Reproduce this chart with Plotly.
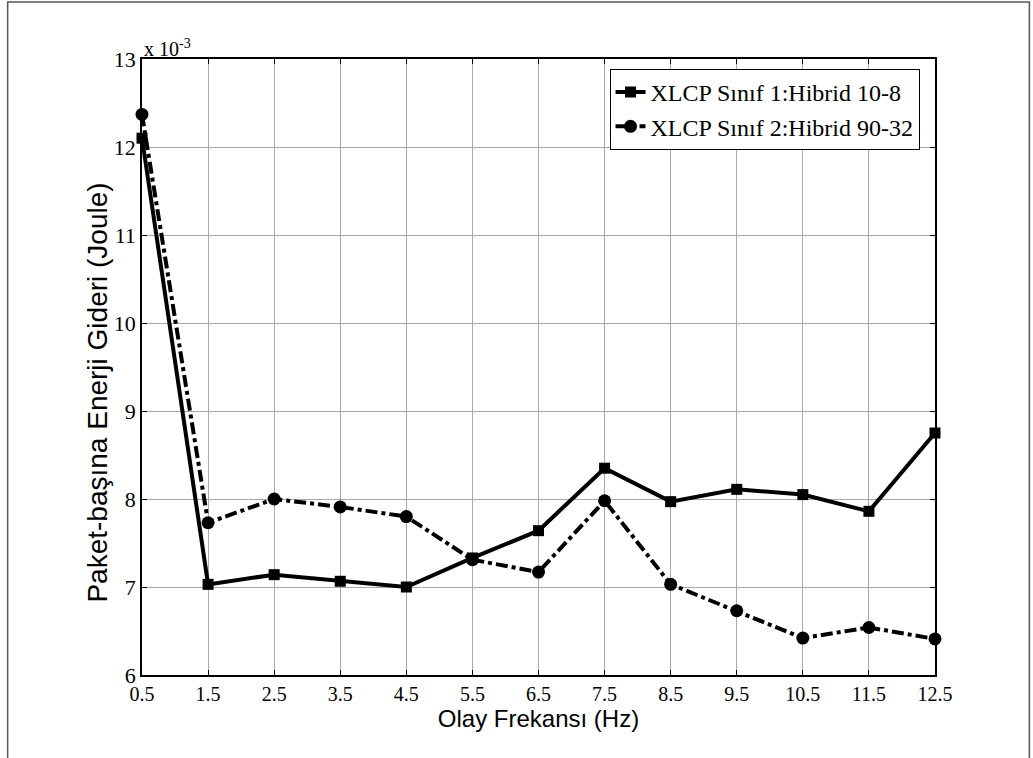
import plotly.graph_objects as go

freq = [0.5, 1.5, 2.5, 3.5, 4.5, 5.5, 6.5, 7.5, 8.5, 9.5, 10.5, 11.5, 12.5]
sinif1 = [12.10, 7.03, 7.14, 7.065, 7.00, 7.33, 7.64, 8.35, 7.97, 8.11, 8.05, 7.86, 8.75]
sinif2 = [12.37, 7.73, 8.00, 7.91, 7.80, 7.31, 7.17, 7.98, 7.03, 6.73, 6.42, 6.54, 6.41]
name1 = "XLCP Sınıf 1:Hibrid 10-8"
name2 = "XLCP Sınıf 2:Hibrid 90-32"
xticks = freq
yticks = [6, 7, 8, 9, 10, 11, 12, 13]
ytitle = "Paket-başına Enerji Gideri (Joule)"
xtitle = "Olay Frekansı (Hz)"

fig = go.Figure()
fig.add_trace(go.Scatter(x=freq, y=sinif1, name=name1, mode="lines+markers",
                         line=dict(color="black", width=4),
                         marker=dict(symbol="square", size=11, color="black"),
                         cliponaxis=False))
fig.add_trace(go.Scatter(x=freq, y=sinif2, name=name2, mode="lines+markers",
                         line=dict(color="black", width=4, dash="dashdot"),
                         marker=dict(symbol="circle", size=13, color="black"),
                         cliponaxis=False))

L, T, R, B = 141.5, 59, 935.5, 675
W, H = 1033, 758
pw, ph = R - L, B - T

axis_common = dict(showline=True, linecolor="black", linewidth=1.5, mirror="ticks",
                   ticks="inside", ticklen=5, tickcolor="black", tickwidth=1,
                   showgrid=True, gridcolor="#a8a8a8", gridwidth=1, zeroline=False)

fig.update_layout(
    width=W, height=H, autosize=False,
    margin=dict(l=L, r=W - R, t=T, b=H - B),
    paper_bgcolor="white", plot_bgcolor="white",
    xaxis=dict(range=[0.5, 12.5], tickvals=xticks, ticktext=[str(v) for v in xticks],
               tickfont=dict(family="Liberation Serif", size=20, color="black"),
               title=dict(text=xtitle, standoff=4,
                          font=dict(family="Liberation Sans", size=24, color="black")),
               **axis_common),
    yaxis=dict(range=[6, 13], tickvals=yticks, ticktext=[str(v) for v in yticks],
               tickfont=dict(family="Liberation Serif", size=22, color="black"),
               **axis_common),
    legend=dict(x=(920 - L) / pw, y=(B - 69) / ph, xanchor="right", yanchor="top",
                bgcolor="white", bordercolor="black", borderwidth=1,
                font=dict(family="Liberation Serif", size=24, color="black"),
                tracegroupgap=0),
    showlegend=True,
    annotations=[
        dict(x=0, y=1, xref="paper", yref="paper", xanchor="left", yanchor="bottom",
             text="x 10<sup>-3</sup>", showarrow=False, yshift=-3,
             font=dict(family="Liberation Serif", size=20, color="black")),
        dict(x=(97 - L) / pw, y=(B - 393) / ph, xref="paper", yref="paper",
             xanchor="center", yanchor="middle", textangle=-90,
             text=ytitle, showarrow=False,
             font=dict(family="Liberation Sans", size=28, color="black")),
    ],
    shapes=[dict(type="rect", xref="paper", yref="paper",
                 x0=(7 - L) / pw, x1=(1030 - L) / pw,
                 y0=(B - 790) / ph, y1=(B - 2) / ph,
                 line=dict(color="#555555", width=1.5), fillcolor="rgba(0,0,0,0)", layer="below")],
)

fig.write_html("out.html")
